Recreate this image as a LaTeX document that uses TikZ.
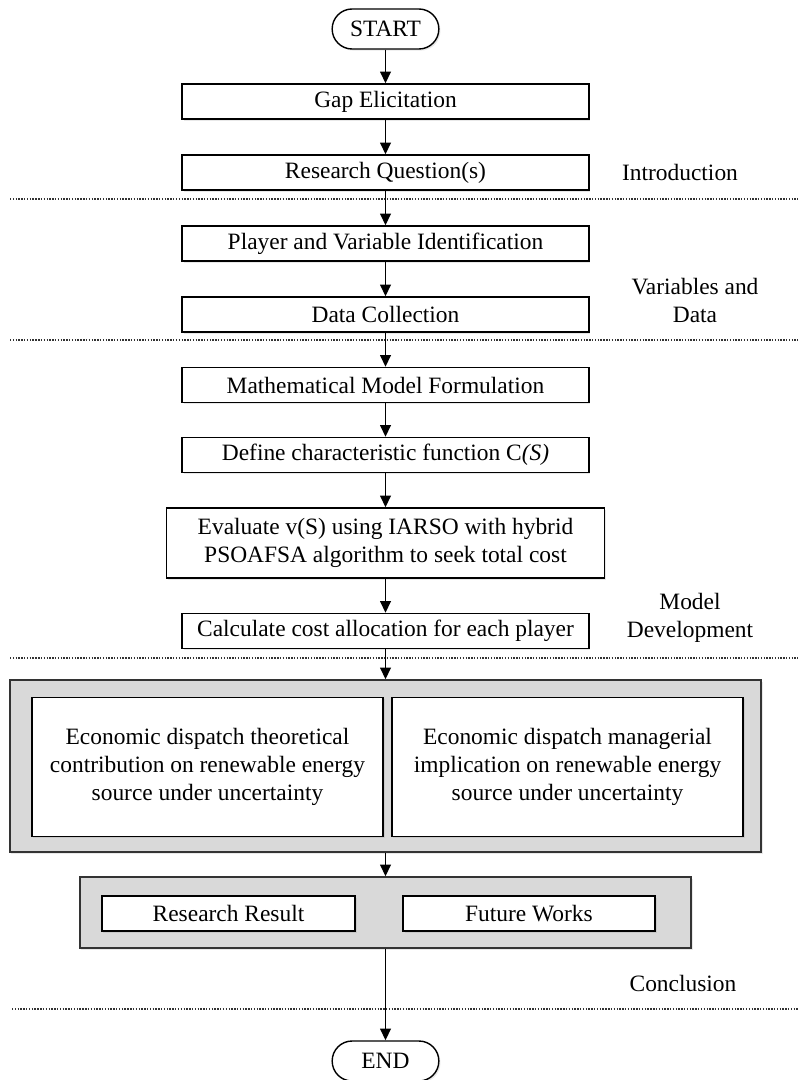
\documentclass[tikz,border=0pt]{standalone}
\usepackage{fontspec}
\setmainfont{Liberation Serif}
\usetikzlibrary{arrows.meta,shadows}

\definecolor{framegrey}{RGB}{217,217,217}

\tikzset{
  boxshadow/.style={drop shadow={opacity=0.18,shadow xshift=0.7pt,shadow yshift=-0.7pt}},
  stepbox/.style={draw,fill=white,line width=0.6pt,inner sep=0pt,
    minimum width=6.1cm,minimum height=0.525cm,align=center,boxshadow},
  terminal/.style={draw,fill=white,line width=0.6pt,inner sep=0pt,
    minimum width=1.6cm,minimum height=0.6cm,rounded corners=8.5pt,boxshadow},
  greyframe/.style={draw=black!80,fill=framegrey,line width=0.6pt,inner sep=0pt,boxshadow},
  phaselabel/.style={align=center,inner sep=0pt},
  phaseline/.style={line width=0.5pt,black!80,dash pattern=on 0.6pt off 0.6pt},
  flowarrow/.style={-{Triangle[length=5pt,width=4.6pt]},line width=0.6pt}
}

\begin{document}
\begin{tikzpicture}[x=0.015cm,y=-0.015cm]
\useasboundingbox (0,0) rectangle (798,1080);

% main column
\node[terminal] (start) at (385.5,29) {START};
\node[stepbox] (gap) at (385.5,101.5) {Gap Elicitation};
\node[stepbox] (rq) at (385.5,172.5) {Research Question(s)};
\node[stepbox] (player) at (385.5,243.5) {Player and Variable Identification};
\node[stepbox] (data) at (385.5,314.5) {Data Collection};
\node[stepbox] (model) at (385.5,385) {Mathematical Model Formulation};
\node[stepbox] (charfn) at (385.5,455) {Define characteristic function C\textit{(S)}};
\node[stepbox,minimum width=6.57cm,minimum height=1.05cm] (evaluate) at (385.5,543)
  {Evaluate v(S) using IARSO with hybrid\\PSOAFSA algorithm to seek total cost};
\node[stepbox] (alloc) at (385.5,631) {Calculate cost allocation for each player};

% implication frame
\node[greyframe,minimum width=11.27cm,minimum height=2.58cm] (implframe) at (385.5,766) {};
\node[stepbox,minimum width=5.27cm,minimum height=2.08cm] (theory) at (207.5,767)
  {Economic dispatch theoretical\\contribution on renewable energy\\source under uncertainty};
\node[stepbox,minimum width=5.27cm,minimum height=2.08cm] (manager) at (567.5,767)
  {Economic dispatch managerial\\implication on renewable energy\\source under uncertainty};

% conclusion frame
\node[greyframe,minimum width=9.17cm,minimum height=1.065cm] (concframe) at (385.5,912.5) {};
\node[stepbox,minimum width=3.8cm] (result) at (228.5,913.5) {Research Result};
\node[stepbox,minimum width=3.78cm] (future) at (529,913.5) {Future Works};

\node[terminal] (end) at (385.5,1061) {END};

% phase separators and labels
\draw[phaseline] (10,199) -- (798,199);
\draw[phaseline] (10,340) -- (798,340);
\draw[phaseline] (10,658) -- (798,658);
\draw[phaseline] (12,1009) -- (798,1009);

\node[phaselabel] (intro) at (680,172) {Introduction};
\node[phaselabel] (vardata) at (695,300.5) {Variables and\\Data};
\node[phaselabel] (devel) at (690,618) {Model\\Development};
\node[phaselabel] (concl) at (683,983) {Conclusion};

% connectors
\foreach \from/\to in {start/gap,gap/rq,rq/player,player/data,data/model,
    model/charfn,charfn/evaluate,evaluate/alloc,alloc/implframe,
    implframe/concframe,concframe/end}
  \draw[flowarrow] (\from.south) -- (\to.north);
\end{tikzpicture}
\end{document}
